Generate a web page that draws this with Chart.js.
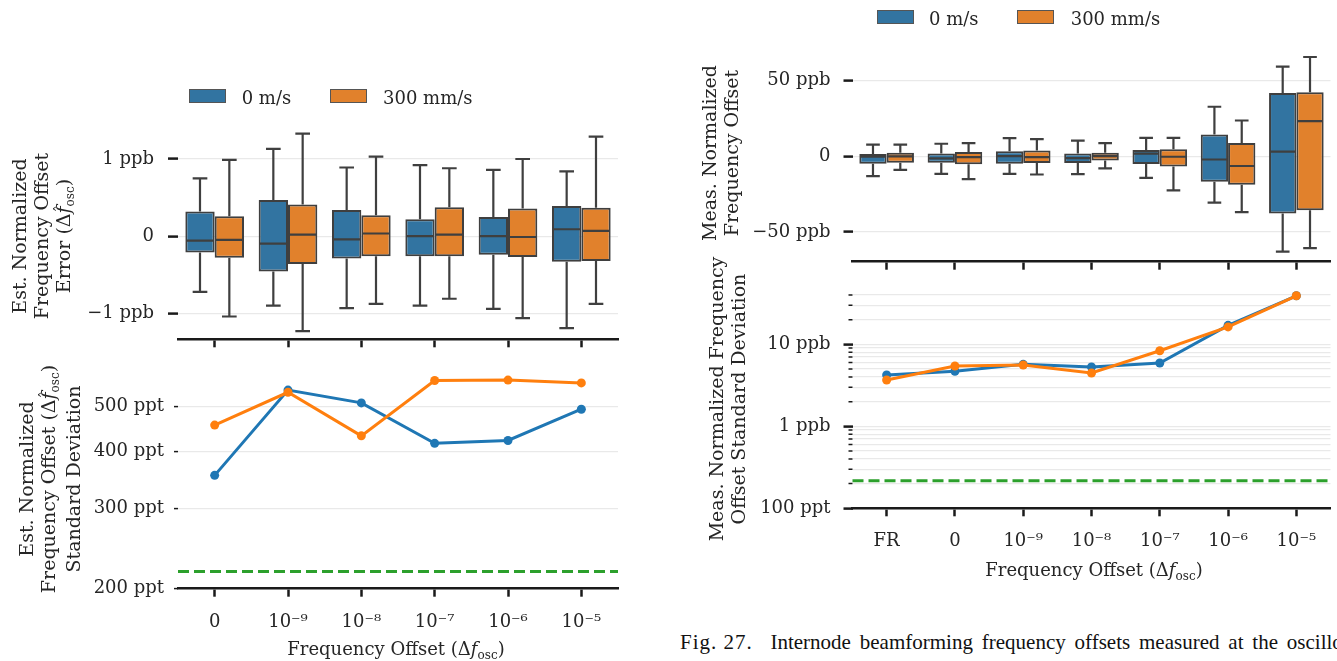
<!DOCTYPE html>
<html>
<head>
<meta charset="utf-8">
<title>Frequency offset estimates</title>
<script src="https://cdn.jsdelivr.net/npm/chart.js@4.4.1/dist/chart.umd.min.js"></script>
<style>
  html, body { margin: 0; padding: 0; background: #fff; }
  body { position: relative; width: 1337px; height: 661px; overflow: hidden;
         font-family: "DejaVu Serif", serif; color: #262626; }
  canvas { position: absolute; }
  .ytitle { position: absolute; font-size: 19px; line-height: 22px; white-space: nowrap;
            text-align: center; transform: translate(-50%, -50%) rotate(-90deg); }
  .xtitle { position: absolute; font-size: 18px; line-height: 21px; white-space: nowrap;
            transform: translateX(-50%); }
  .sub { font-size: 12px; position: relative; top: 4px; }
  .hat { position: relative; }
  .hat b { position: absolute; left: 1px; top: -3px; font-weight: normal; font-style: normal; font-size: 15px; line-height: 22px; }
  .leg { position: absolute; font-size: 18px; line-height: 21px; white-space: nowrap; }
  .swatch { position: absolute; width: 37px; height: 14px; box-sizing: border-box; border: 1px solid #555; }
  .caption { position: absolute; left: 680px; top: 631px; font-family: "Liberation Serif", serif;
             font-size: 21px; line-height: 23px; white-space: nowrap; color: #111; word-spacing: 3.6px; }
</style>
</head>
<body>
<canvas id="errBox" width="640" height="280" style="left:0;top:100px"></canvas>
<canvas id="estStd" width="640" height="321" style="left:0;top:340px"></canvas>
<canvas id="measBox" width="647" height="262" style="left:690px;top:25px"></canvas>
<canvas id="measStd" width="647" height="325" style="left:690px;top:265px"></canvas>

<!-- legends -->
<div class="swatch" style="left:189px;top:88.5px;background:#3274a1"></div>
<div class="leg" style="left:241.7px;top:86.5px">0 m/s</div>
<div class="swatch" style="left:330px;top:88.5px;background:#e1812c"></div>
<div class="leg" style="left:383px;top:86.5px">300 mm/s</div>

<div class="swatch" style="left:876.7px;top:10.3px;background:#3274a1"></div>
<div class="leg" style="left:929px;top:7.5px">0 m/s</div>
<div class="swatch" style="left:1017px;top:10.3px;background:#e1812c"></div>
<div class="leg" style="left:1070.7px;top:7.5px">300 mm/s</div>

<!-- axis titles -->
<div class="ytitle" style="left:41.5px;top:235.5px">Est. Normalized<br>Frequency Offset<br>Error (Δ<span class="hat"><i>f</i><b>ˆ</b></span><span class="sub">osc</span>)</div>
<div class="ytitle" style="left:48.5px;top:478.5px">Est. Normalized<br>Frequency Offset (Δ<span class="hat"><i>f</i><b>ˆ</b></span><span class="sub">osc</span>)<br>Standard Deviation</div>
<div class="ytitle" style="left:719.5px;top:153px">Meas. Normalized<br>Frequency Offset</div>
<div class="ytitle" style="left:727px;top:399px">Meas. Normalized Frequency<br>Offset Standard Deviation</div>
<div class="xtitle" style="left:396px;top:638px">Frequency Offset (Δ<i>f</i><span class="sub">osc</span>)</div>
<div class="xtitle" style="left:1094px;top:559px">Frequency Offset (Δ<i>f</i><span class="sub">osc</span>)</div>

<div class="caption"><span style="letter-spacing:1px;word-spacing:0">Fig. 27.</span>&nbsp;&nbsp;Internode beamforming frequency offsets measured at the oscilloscope</div>

<script>
// categories
const offsetsLeft = ['0', '10⁻⁹', '10⁻⁸', '10⁻⁷', '10⁻⁶', '10⁻⁵'];
const offsetsRight = ['FR', '0', '10⁻⁹', '10⁻⁸', '10⁻⁷', '10⁻⁶', '10⁻⁵'];

// box stats per offset: [low whisker, Q1, median, Q3, high whisker] in ppb
const estErrStill = [
  [-0.72, -0.21, -0.056, 0.32, 0.75],
  [-0.90, -0.457, -0.095, 0.47, 1.13],
  [-0.93, -0.29, -0.04, 0.34, 0.89],
  [-0.90, -0.26, 0.0, 0.22, 0.92],
  [-0.94, -0.24, 0.0, 0.25, 0.86],
  [-1.19, -0.33, 0.09, 0.39, 0.84]
];
const estErrMoving = [
  [-1.04, -0.28, -0.047, 0.26, 0.99],
  [-1.23, -0.36, 0.02, 0.41, 1.33],
  [-0.875, -0.26, 0.035, 0.27, 1.03],
  [-0.81, -0.26, 0.02, 0.375, 0.88],
  [-1.06, -0.27, -0.01, 0.36, 1.0],
  [-0.875, -0.32, 0.07, 0.37, 1.29]
];
const measStill = [
  [-13.2, -5, -0.4, 1.5, 7.6],
  [-11.7, -4.3, -1.5, 1.7, 8.2],
  [-11.7, -5, 0, 3.2, 11.9],
  [-11.9, -4.5, -1.3, 1.7, 10.2],
  [-14.3, -5.2, 1.7, 4.1, 12.1],
  [-30.7, -16.8, -2.2, 14.3, 32.6],
  [-63, -37.8, 3.0, 41.7, 59]
];
const measMoving = [
  [-9, -4.3, -0.2, 2.2, 7.6],
  [-15.1, -5.4, -0.6, 2.8, 8.6],
  [-12.1, -4.5, -0.6, 3.7, 11.2],
  [-8, -2.8, 0, 2.2, 8.6],
  [-22.5, -6.9, -0.4, 4.5, 12.1],
  [-36.9, -18.8, -6.5, 8.6, 23.5],
  [-60.7, -35.6, 23.1, 42.1, 65.4]
];

// standard deviations
const estStdStill = [354, 544, 510, 416, 422, 494];     // ppt
const estStdMoving = [456, 538, 432, 571, 572, 564];    // ppt
const estStdFloor = 218;                                // ppt
const measStdStill = [4.22, 4.69, 5.70, 5.29, 5.92, 17.05, 39.1];  // ppb
const measStdMoving = [3.67, 5.44, 5.6, 4.47, 8.36, 16.3, 39.1];   // ppb
const measStdFloor = 0.217;                                          // ppb

// tick values
const errTicks = [-1, 0, 1];
const measTicks = [-50, 0, 50];
const estStdTicks = [200, 300, 400, 500];
const measStdTicks = [0.1, 0.2, 0.3, 0.4, 0.5, 0.6, 0.7, 0.8, 0.9,
                      1, 2, 3, 4, 5, 6, 7, 8, 9, 10, 20, 30, 40];
const measStdMajor = [0.1, 1, 10];

const TEXT = '#262626';
const AXIS = '#1a1a1a';
const GRID = '#e9e9e9';
const EDGE = '#3f3f3f';
const TICK_FONT = { family: 'DejaVu Serif', size: 18 };

// whiskers, caps and medians on top of the floating bars
const boxWhiskers = {
  id: 'boxWhiskers',
  afterDatasetsDraw(chart) {
    const ctx = chart.ctx, y = chart.scales.y;
    ctx.save();
    ctx.strokeStyle = EDGE;
    ctx.lineWidth = 2.2;
    chart.data.datasets.forEach((ds, i) => {
      if (!ds.stats) return;
      chart.getDatasetMeta(i).data.forEach((bar, j) => {
        const [lo, q1, med, q3, hi] = ds.stats[j];
        const x = bar.x, w = bar.width;
        const yLo = y.getPixelForValue(lo), yHi = y.getPixelForValue(hi);
        const yMed = y.getPixelForValue(med);
        ctx.beginPath();
        ctx.moveTo(x, y.getPixelForValue(q3)); ctx.lineTo(x, yHi);
        ctx.moveTo(x, y.getPixelForValue(q1)); ctx.lineTo(x, yLo);
        ctx.moveTo(x - w / 4, yHi); ctx.lineTo(x + w / 4, yHi);
        ctx.moveTo(x - w / 4, yLo); ctx.lineTo(x + w / 4, yLo);
        ctx.moveTo(x - w / 2 + 1, yMed); ctx.lineTo(x + w / 2 - 1, yMed);
        ctx.stroke();
      });
    });
    ctx.restore();
  }
};

// dashed floor line across the plot
const floorLine = {
  id: 'floorLine',
  beforeDatasetsDraw(chart, args, opts) {
    if (!opts || opts.value == null) return;
    const { ctx, chartArea } = chart;
    const py = chart.scales.y.getPixelForValue(opts.value);
    ctx.save();
    ctx.strokeStyle = '#2ca02c';
    ctx.lineWidth = 3;
    ctx.setLineDash([11, 5]);
    ctx.beginPath();
    ctx.moveTo(chartArea.left, py);
    ctx.lineTo(chartArea.right, py);
    ctx.stroke();
    ctx.restore();
  }
};

// short tick marks for the minor log ticks
const minorTicks = {
  id: 'minorTicks',
  afterDraw(chart, args, opts) {
    if (!opts || !opts.values) return;
    const { ctx, chartArea } = chart, y = chart.scales.y;
    ctx.save();
    ctx.strokeStyle = AXIS;
    ctx.lineWidth = 1.5;
    ctx.beginPath();
    opts.values.forEach(v => {
      const py = y.getPixelForValue(v);
      ctx.moveTo(chartArea.left - opts.length, py);
      ctx.lineTo(chartArea.left, py);
    });
    ctx.stroke();
    ctx.restore();
  }
};

function xAxis(height, showLabels) {
  return {
    type: 'category',
    offset: true,
    grid: { display: true, drawOnChartArea: false, offset: false, tickLength: 8, tickWidth: 2.5, tickColor: AXIS },
    border: { display: true, color: AXIS, width: 2.5 },
    ticks: showLabels
      ? { font: TICK_FONT, color: TEXT, padding: 14.5, maxRotation: 0, autoSkip: false }
      : { display: false },
    afterFit: s => { s.height = height; }
  };
}

function yAxis(o) {
  return {
    type: o.type || 'linear',
    min: o.min,
    max: o.max,
    afterBuildTicks: s => { s.ticks = o.ticks.map(v => ({ value: v })); },
    grid: { color: GRID, lineWidth: 1.2, tickLength: o.tickLength, tickWidth: o.tickWidth || 2.5, tickColor: o.tickColor || AXIS },
    border: { display: false },
    ticks: { font: TICK_FONT, color: TEXT, padding: o.padding, autoSkip: false, callback: o.label },
    afterFit: s => { s.width = o.width; }
  };
}

function baseOptions(padding, x, y, pluginOpts) {
  return {
    responsive: false,
    animation: false,
    layout: { padding },
    plugins: Object.assign({ legend: { display: false }, tooltip: { enabled: false } }, pluginOpts || {}),
    scales: { x, y }
  };
}

function boxSets(still, moving) {
  const common = { borderColor: EDGE, borderWidth: 2, borderSkipped: false,
                   categoryPercentage: 0.8, barPercentage: 1.0 };
  return [
    Object.assign({ label: '0 m/s', data: still.map(b => [b[1], b[3]]), stats: still, backgroundColor: '#3274a1' }, common),
    Object.assign({ label: '300 mm/s', data: moving.map(b => [b[1], b[3]]), stats: moving, backgroundColor: '#e1812c' }, common)
  ];
}

function lineSet(label, data, color, order) {
  return { label, data, borderColor: color, backgroundColor: color, borderWidth: 3,
           pointRadius: 4.5, pointHoverRadius: 4.5, pointBorderWidth: 0,
           pointBackgroundColor: color, tension: 0, order };
}

const ppb = v => v === 0 ? '0' : (v < 0 ? '−' : '') + Math.abs(v) + ' ppb';

new Chart(document.getElementById('errBox'), {
  type: 'bar',
  data: { labels: offsetsLeft, datasets: boxSets(estErrStill, estErrMoving) },
  options: baseOptions({ top: 24, right: 22, left: 0, bottom: 0 },
    xAxis(40.7, false),
    yAxis({ min: -1.335, max: 1.443, ticks: errTicks, label: ppb, tickLength: 10, padding: 14, width: 178 })),
  plugins: [boxWhiskers]
});

new Chart(document.getElementById('estStd'), {
  type: 'line',
  data: { labels: offsetsLeft, datasets: [
    lineSet('0 m/s', estStdStill, '#1f77b4', 1),
    lineSet('300 mm/s', estStdMoving, '#ff7f0e', 0)
  ] },
  options: baseOptions({ top: 32.3, right: 22, left: 0, bottom: 0 },
    xAxis(72.3, true),
    yAxis({ type: 'logarithmic', min: 200, max: 595, ticks: estStdTicks, label: v => v + ' ppt',
            tickLength: 4, tickWidth: 1.5, padding: 10, width: 178 }),
    { floorLine: { value: estStdFloor } }),
  plugins: [floorLine]
});

new Chart(document.getElementById('measBox'), {
  type: 'bar',
  data: { labels: offsetsRight, datasets: boxSets(measStill, measMoving) },
  options: baseOptions({ top: 20, right: 6.5, left: 0, bottom: 0 },
    xAxis(25.3, false),
    yAxis({ min: -69.6, max: 70.8, ticks: measTicks, label: ppb, tickLength: 9, padding: 13, width: 162.5 })),
  plugins: [boxWhiskers]
});

new Chart(document.getElementById('measStd'), {
  type: 'line',
  data: { labels: offsetsRight, datasets: [
    lineSet('0 m/s', measStdStill, '#1f77b4', 1),
    lineSet('300 mm/s', measStdMoving, '#ff7f0e', 0)
  ] },
  options: baseOptions({ top: 25, right: 6.5, left: 0, bottom: 0 },
    xAxis(81.7, true),
    yAxis({ type: 'logarithmic', min: 0.1, max: 46, ticks: measStdTicks,
            label: v => v === 0.1 ? '100 ppt' : (measStdMajor.includes(v) ? v + ' ppb' : ''),
            tickLength: 9, padding: 13, width: 162.5,
            tickColor: c => (c.tick && measStdMajor.includes(c.tick.value)) ? AXIS : 'rgba(0,0,0,0)' }),
    { floorLine: { value: measStdFloor },
      minorTicks: { values: measStdTicks.filter(v => !measStdMajor.includes(v)), length: 4 } }),
  plugins: [floorLine, minorTicks]
});
</script>
</body>
</html>
